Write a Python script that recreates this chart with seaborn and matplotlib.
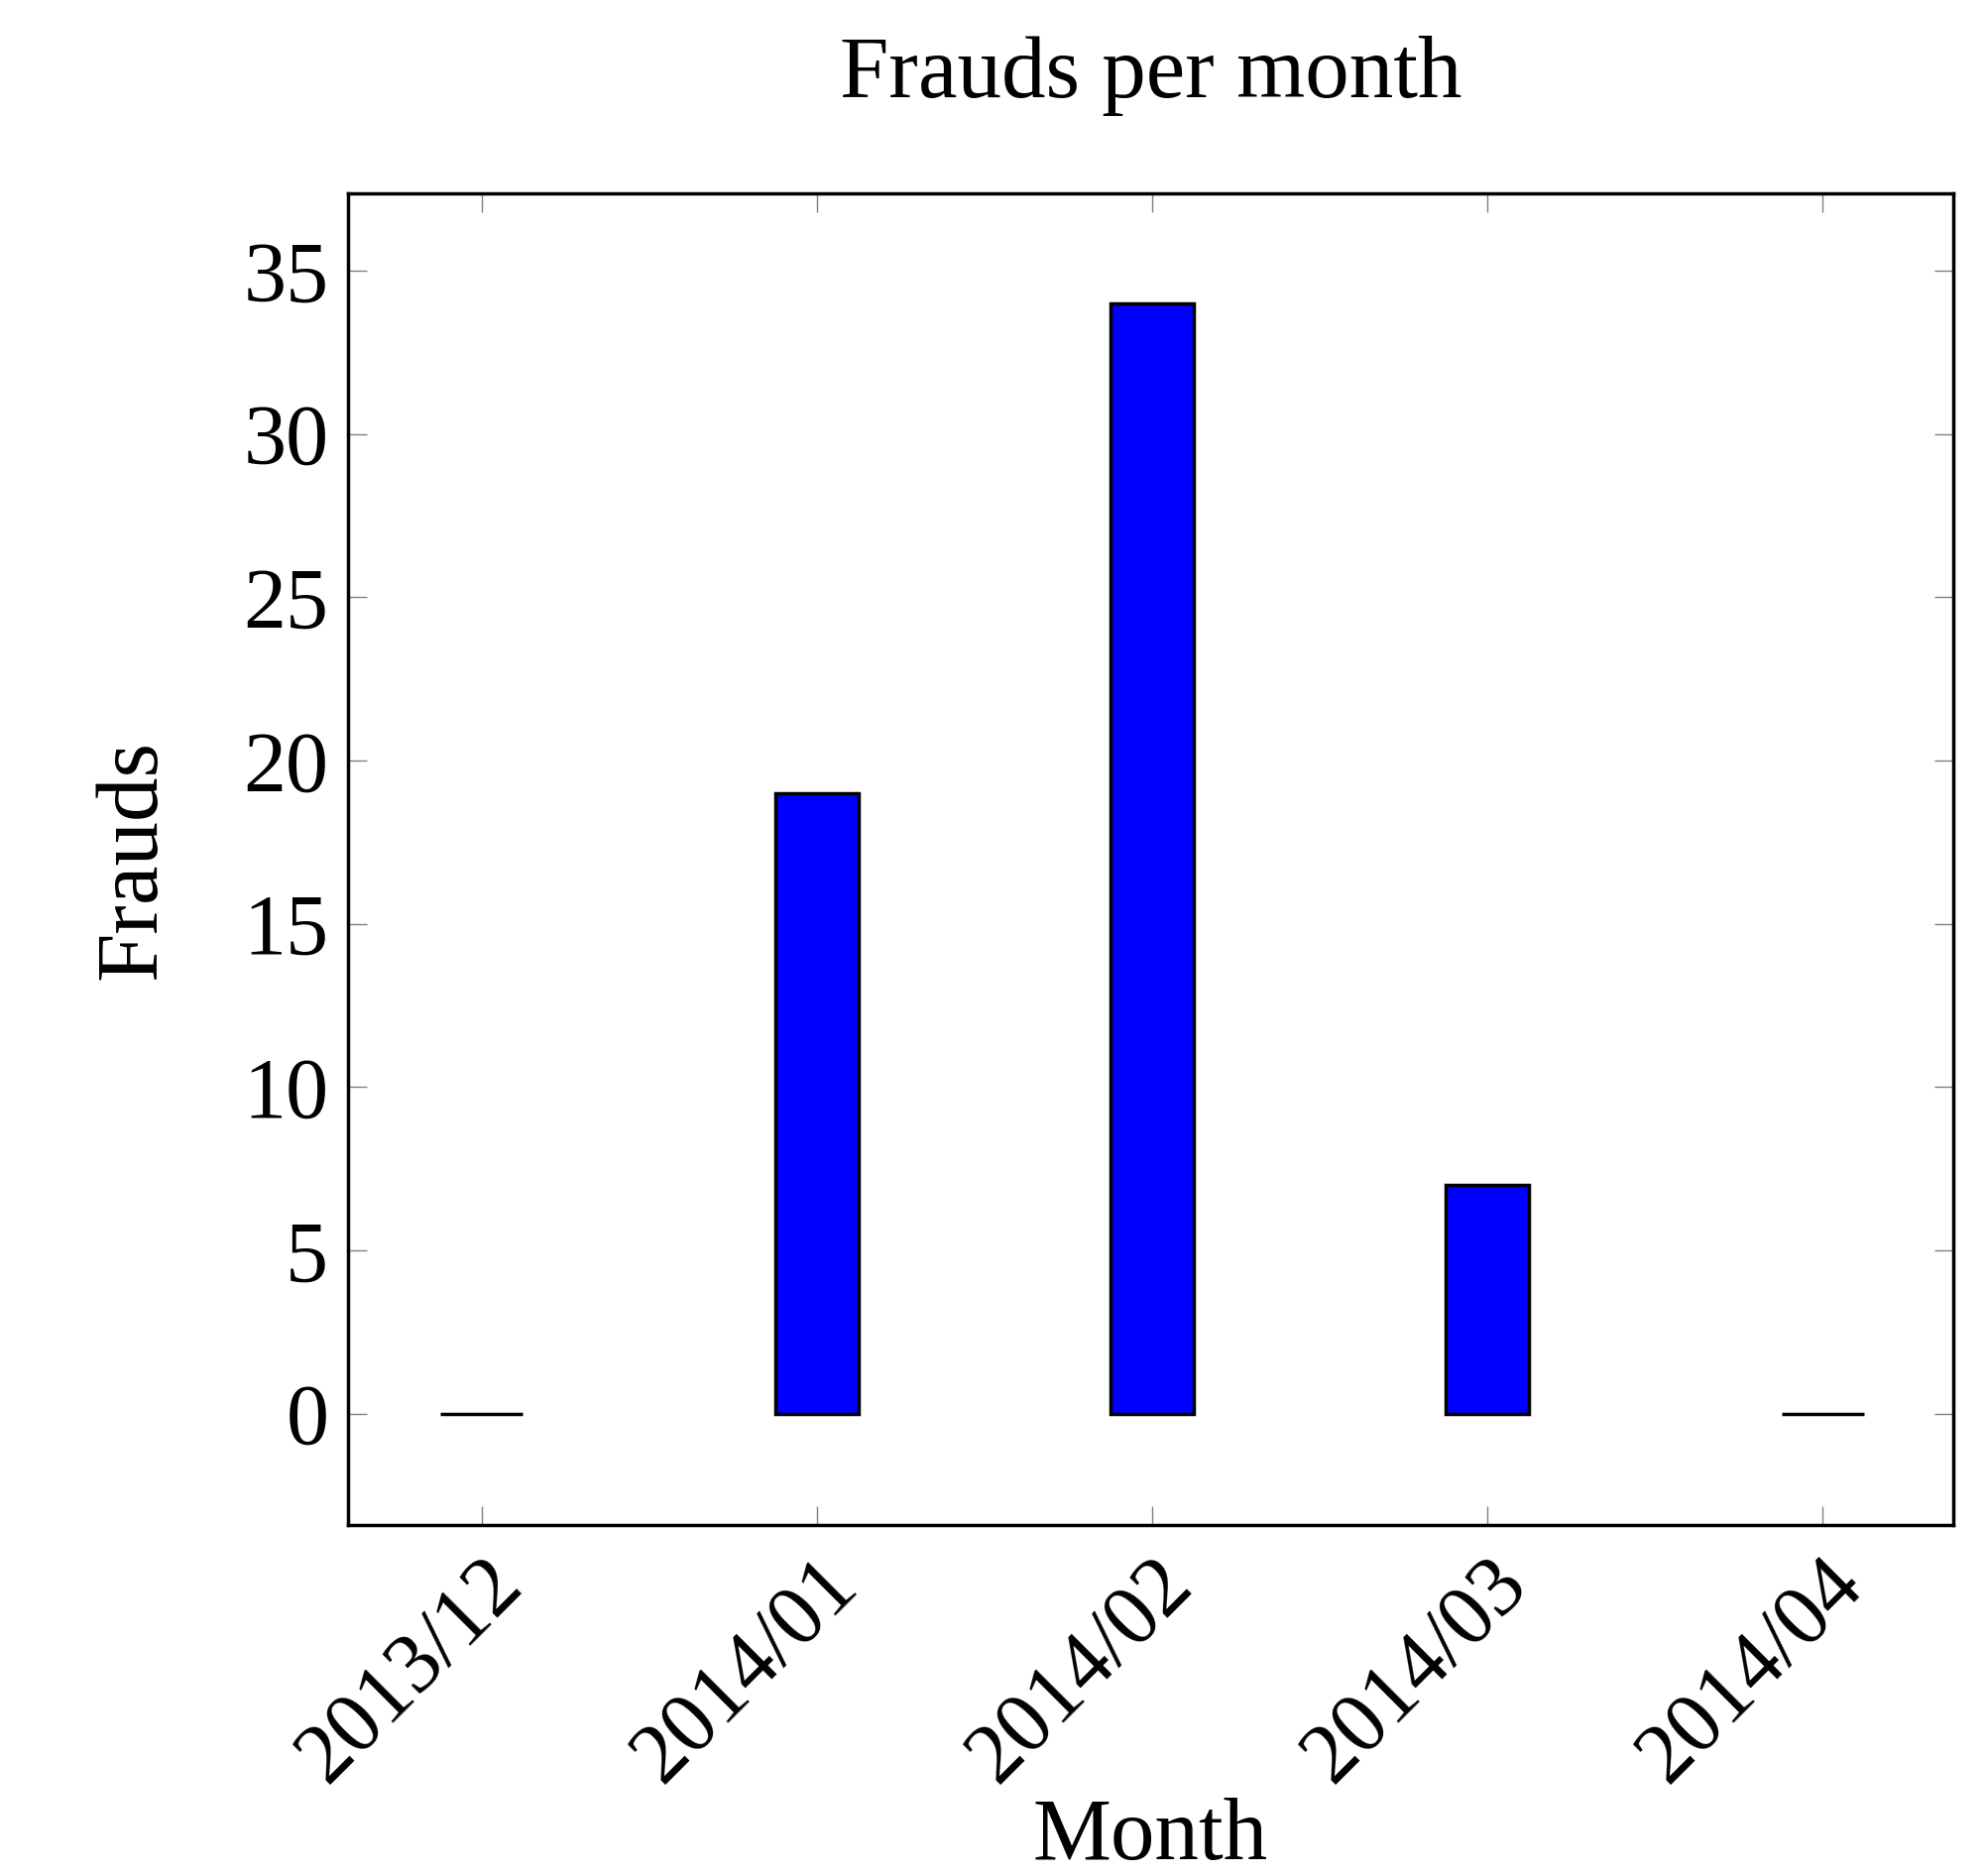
import numpy as np
import pandas as pd
import matplotlib
matplotlib.use('Agg')
import matplotlib.pyplot as plt
import seaborn as sns

months = ['2013/12', '2014/01', '2014/02', '2014/03', '2014/04']
frauds = [0, 19, 34, 7, 0]

df = pd.DataFrame({'Month': months, 'Frauds': frauds})

sns.set_style('white')
plt.rcParams['font.family'] = ['Liberation Serif', 'DejaVu Serif']
plt.rcParams['text.color'] = 'black'
plt.rcParams['axes.labelcolor'] = 'black'
plt.rcParams['xtick.labelcolor'] = 'black'
plt.rcParams['ytick.labelcolor'] = 'black'

fig = plt.figure(figsize=(20.04, 18.92), dpi=100)
ax = fig.add_axes([0.175, 0.187, 0.808, 0.71])

sns.barplot(data=df, x='Month', y='Frauds', color='#0000ff', saturation=1,
            width=0.246, edgecolor='black', linewidth=2.5, ax=ax)

ax.set_xlim(-0.40, 4.39)
ax.set_ylim(-3.41, 37.37)
ax.set_yticks([0, 5, 10, 15, 20, 25, 30, 35])
ax.tick_params(direction='in', length=14, width=1, color='#808080',
               top=True, right=True, bottom=True, left=True, labelsize=62, pad=14)
plt.setp(ax.get_xticklabels(), rotation=45, ha='right', rotation_mode='anchor')
for s in ax.spines.values():
    s.set_linewidth(2.5)
    s.set_color('black')

ax.set_xlabel('Month', fontsize=64, labelpad=0)
ax.set_ylabel('Frauds', fontsize=64, labelpad=50)
ax.set_title('Frauds per month', fontsize=64, pad=70)

fig.savefig('out.png', dpi=100, facecolor='white')
